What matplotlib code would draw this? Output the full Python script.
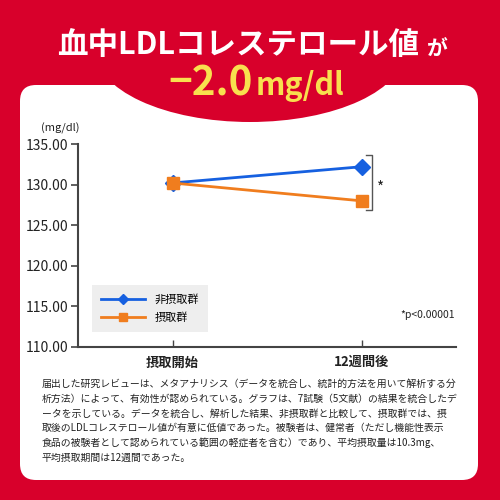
import matplotlib
matplotlib.use('Agg')
import matplotlib.pyplot as plt
from matplotlib.patches import FancyBboxPatch, Ellipse

plt.rcParams['font.family'] = ['Noto Sans CJK JP', 'DejaVu Sans']

# data
timepoints = ['摂取開始', '12週間後']
non_intake = [130.2, 132.2]   # 非摂取群
intake = [130.2, 128.0]       # 摂取群
y_ticks = [110, 115, 120, 125, 130, 135]

RED = '#d8002b'
YELLOW = '#f8e04e'
BLUE = '#1660e0'
ORANGE = '#f07d1e'

notes = [
    '届出した研究レビューは、メタアナリシス（データを統合し、統計的方法を用いて解析する分',
    '析方法）によって、有効性が認められている。グラフは、7試験（5文献）の結果を統合したデ',
    'ータを示している。データを統合し、解析した結果、非摂取群と比較して、摂取群では、摂',
    '取後のLDLコレステロール値が有意に低値であった。被験者は、健常者（ただし機能性表示',
    '食品の被験者として認められている範囲の軽症者を含む）であり、平均摂取量は10.3mg、',
    '平均摂取期間は12週間であった。',
]

fig = plt.figure(figsize=(5, 5), dpi=100, facecolor=RED)

# background layer in pixel coordinates
bg = fig.add_axes([0, 0, 1, 1])
bg.set_xlim(0, 500)
bg.set_ylim(500, 0)
bg.axis('off')
bg.add_patch(FancyBboxPatch((20, 85), 458, 395, boxstyle='round,pad=0,rounding_size=16',
                            facecolor='white', edgecolor='none'))
bg.add_patch(Ellipse((250, 50), 310, 144, facecolor=RED, edgecolor='none'))

bg.text(238, 45, '血中LDLコレステロール値', color='white', fontsize=22, fontweight='bold',
        ha='center', va='center')
bg.text(437, 49, 'が', color='white', fontsize=15, fontweight='bold', ha='center', va='center')
bg.text(253, 84, '−2.0', color=YELLOW, fontsize=29, fontweight='bold', ha='right', va='center')
bg.text(256, 86, 'mg/dl', color=YELLOW, fontsize=22, fontweight='bold', ha='left', va='center')

bg.text(60, 128, '(mg/dl)', color='#222222', fontsize=8, ha='center', va='center')

for i, line in enumerate(notes):
    bg.text(42, 384 + i * 14.8, line, color='#222222', fontsize=7.1, ha='left', va='center')

# chart
ax = fig.add_axes([0.156, 0.306, 0.756, 0.406])
x = range(len(timepoints))
ax.plot(x, non_intake, color=BLUE, lw=2, marker='D', ms=8, label='非摂取群', zorder=3)
ax.plot(x, intake, color=ORANGE, lw=2, marker='s', ms=8, label='摂取群', zorder=4)

ax.set_xlim(-0.5, 1.5)
ax.set_ylim(110, 135)
ax.set_yticks(y_ticks)
ax.set_yticklabels([f'{v:.2f}' for v in y_ticks], fontsize=10, color='#222222')
ax.set_xticks(list(x))
ax.set_xticklabels(timepoints, fontsize=9.5, fontweight='bold', color='#222222')
ax.tick_params(axis='y', direction='out', length=5, width=1.2, color='#444444', pad=2)
ax.tick_params(axis='x', direction='in', length=5, width=1, color='#444444', pad=6)
for s in ['top', 'right']:
    ax.spines[s].set_visible(False)
for s in ['left', 'bottom']:
    ax.spines[s].set_color('#444444')
    ax.spines[s].set_linewidth(1.5)
ax.set_facecolor('none')

# significance bracket
bx = 1.056
ax.plot([bx - 0.03, bx, bx, bx - 0.03], [133.6, 133.6, 126.9, 126.9],
        color='#555555', lw=1, clip_on=False)
ax.text(bx + 0.045, 129.6, '*', fontsize=11, ha='center', va='center', color='#222222')
ax.text(0.997, 113.9, '*p<0.00001', fontsize=7.5, ha='right', va='center', color='#222222',
        transform=ax.get_yaxis_transform())

leg = ax.legend(loc='lower left', bbox_to_anchor=(0.037, 0.074), borderaxespad=0,
                frameon=True, fancybox=False, facecolor='#eeeeee', edgecolor='none',
                fontsize=8, handlelength=4.0, borderpad=0.8, labelspacing=0.7,
                markerscale=0.7)
leg.get_frame().set_alpha(1)

fig.savefig('out.png', dpi=100, facecolor=RED)
